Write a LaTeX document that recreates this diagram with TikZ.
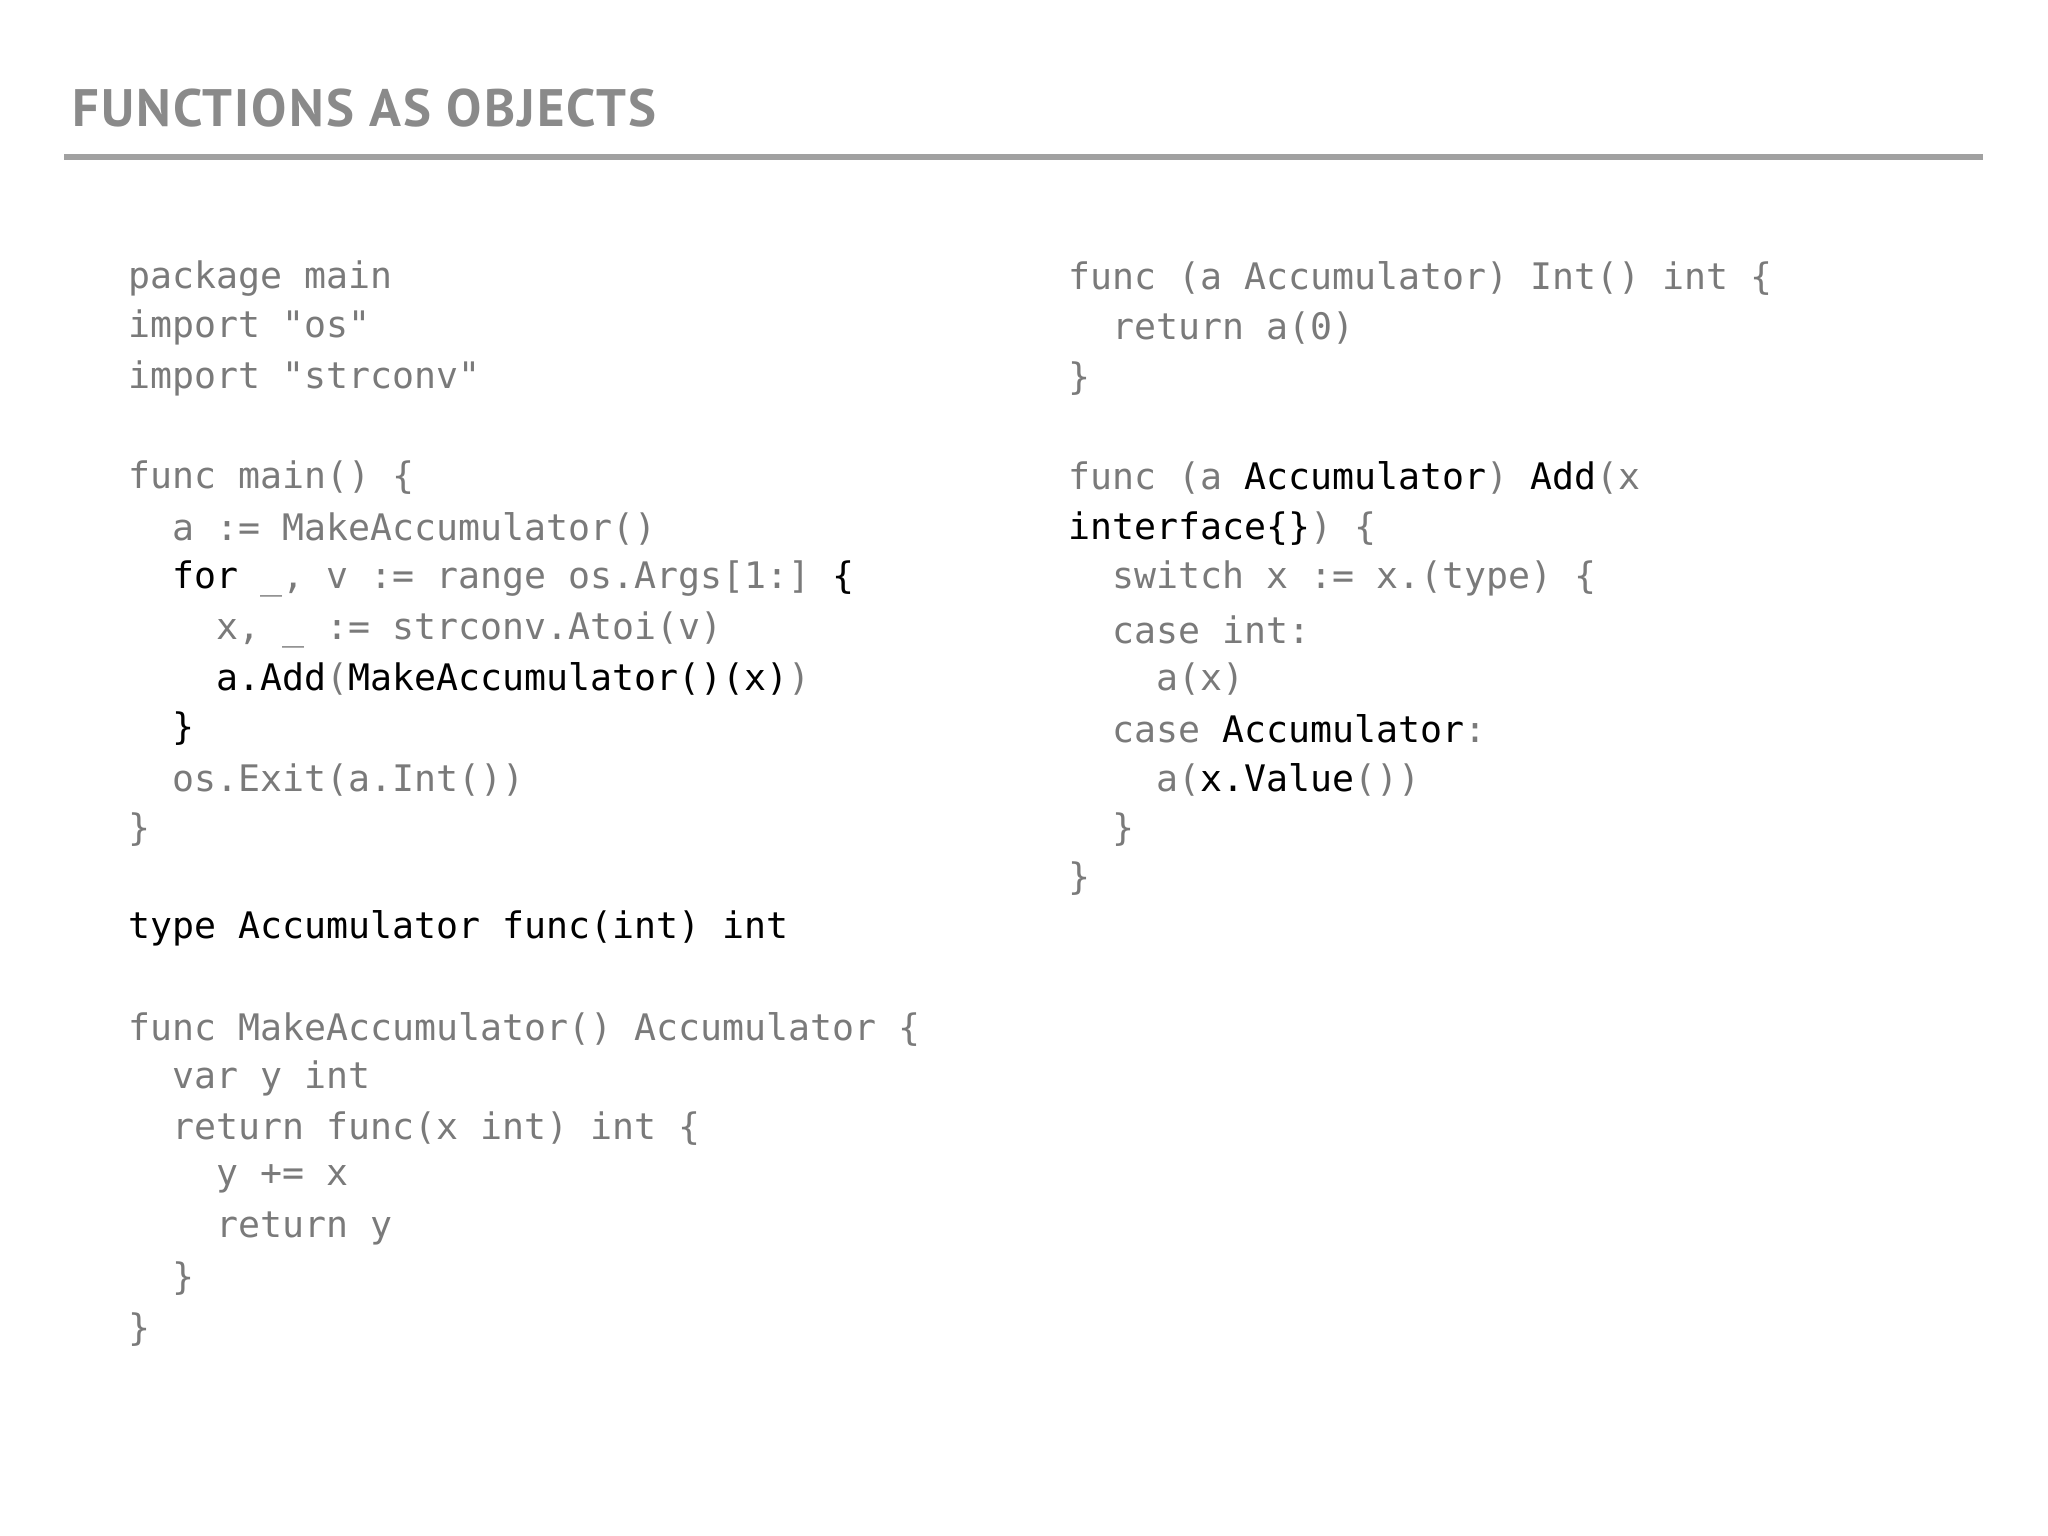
\documentclass[tikz,border=0pt]{standalone}
\usepackage{fontspec}
\setmonofont{DejaVu Sans Mono}
\newfontfamily\titlefont[LetterSpace=4]{PT Sans}
\definecolor{cg}{HTML}{7A7A7A}
\definecolor{tg}{HTML}{8A8A8A}
\newcommand{\K}[1]{\textcolor{black}{#1}}
\begin{document}
\begin{tikzpicture}[x=1cm,y=1cm,
  cl/.style={anchor=west,inner sep=0pt,font=\ttfamily\fontsize{10.4}{12}\selectfont,text=cg}]
\useasboundingbox (0,0) rectangle (20.48,-15.36);
\node[anchor=west,inner sep=0pt,text=tg,font=\titlefont\bfseries\fontsize{15}{18}\selectfont] (title) at (0.72,-1.08) {FUNCTIONS AS OBJECTS};
\coordinate (r1) at (0.64,-1.57); \coordinate (r2) at (19.83,-1.57);
\draw[color=tg!80,line width=1.5pt] (r1) -- (r2);
\def\cw{0.2194}
\def\L{1.28}
\def\R{10.68}
\def\ly#1{-#1*1.306/100}
% left column
\node[cl] (l1) at (\L,{\ly{213}}) {package main};
\node[cl] (l2) at (\L,{\ly{251}}) {import "os"};
\node[cl] (l3) at (\L,{\ly{290}}) {import "strconv"};
\node[cl] (l4) at (\L,{\ly{366}}) {func main() \{};
\node[cl] (l5) at (\L+2*\cw,{\ly{405}}) {a := MakeAccumulator()};
\node[cl] (l6) at (\L+2*\cw,{\ly{443}}) {\K{for} \_, v := range os.Args[1:] \K{\{}};
\node[cl] (l7) at (\L+4*\cw,{\ly{482}}) {x, \_ := strconv.Atoi(v)};
\node[cl] (l8) at (\L+4*\cw,{\ly{520}}) {\K{a.Add}(\K{MakeAccumulator()(x)})};
\node[cl] (l9) at (\L+2*\cw,{\ly{558}}) {\K{\}}};
\node[cl] (l10) at (\L+2*\cw,{\ly{597}}) {os.Exit(a.Int())};
\node[cl] (l11) at (\L,{\ly{635}}) {\}};
\node[cl,text=black] (l12) at (\L,{\ly{711}}) {type Accumulator func(int) int};
\node[cl] (l13) at (\L,{\ly{788}}) {func MakeAccumulator() Accumulator \{};
\node[cl] (l14) at (\L+2*\cw,{\ly{826}}) {var y int};
\node[cl] (l15) at (\L+2*\cw,{\ly{864}}) {return func(x int) int \{};
\node[cl] (l16) at (\L+4*\cw,{\ly{903}}) {y += x};
\node[cl] (l17) at (\L+4*\cw,{\ly{941}}) {return y};
\node[cl] (l18) at (\L+2*\cw,{\ly{979}}) {\}};
\node[cl] (l19) at (\L,{\ly{1018}}) {\}};
% right column
\node[cl] (r1n) at (\R,{\ly{213}}) {func (a Accumulator) Int() int \{};
\node[cl] (r2n) at (\R+2*\cw,{\ly{251}}) {return a(0)};
\node[cl] (r3n) at (\R,{\ly{290}}) {\}};
\node[cl] (r4n) at (\R,{\ly{366}}) {func (a \K{Accumulator}) \K{Add}(x};
\node[cl] (r5n) at (\R,{\ly{405}}) {\K{interface\{\}}) \{};
\node[cl] (r6n) at (\R+2*\cw,{\ly{443}}) {switch x := x.(type) \{};
\node[cl] (r7n) at (\R+2*\cw,{\ly{482}}) {case int:};
\node[cl] (r8n) at (\R+4*\cw,{\ly{520}}) {a(x)};
\node[cl] (r9n) at (\R+2*\cw,{\ly{558}}) {case \K{Accumulator}:};
\node[cl] (r10n) at (\R+4*\cw,{\ly{597}}) {a(\K{x.Value}())};
\node[cl] (r11n) at (\R+2*\cw,{\ly{635}}) {\}};
\node[cl] (r12n) at (\R,{\ly{673}}) {\}};
\end{tikzpicture}
\end{document}
